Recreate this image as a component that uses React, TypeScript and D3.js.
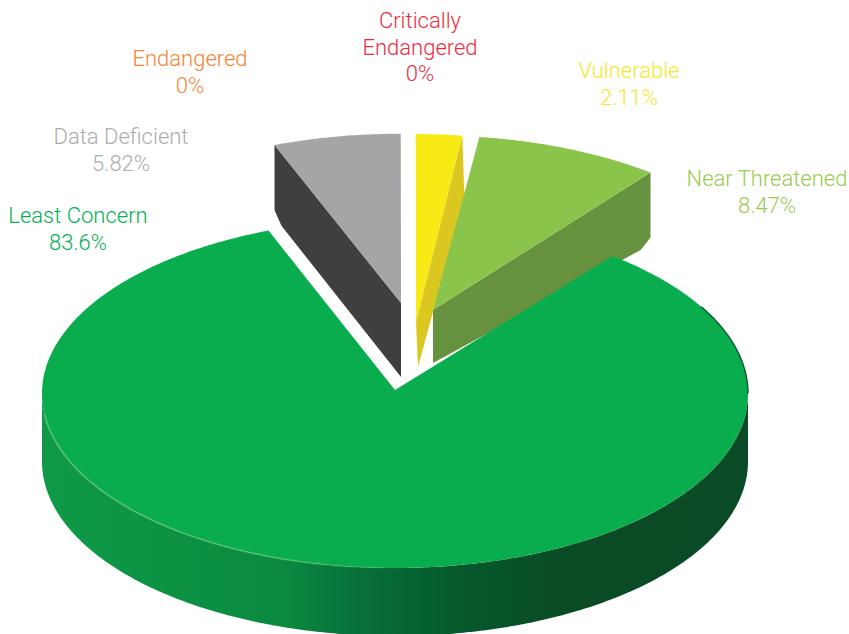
import React from "react";
import * as d3 from "d3";

const W = 849;
const H = 634;

// Data
const categories = ["Data Deficient", "Endangered", "Critically Endangered", "Vulnerable", "Near Threatened", "Least Concern"];
const values = [5.82, 0, 0, 2.11, 8.47, 83.6];
const labelLines: string[][] = [["Data Deficient"], ["Endangered"], ["Critically", "Endangered"], ["Vulnerable"], ["Near Threatened"], ["Least Concern"]];

// Style and layout, per category
const labelColors = ["#adadad", "#f58635", "#ee2c3e", "#f6e72a", "#98cb4e", "#05b055"];
const labelX = [121, 190, 420, 629, 767, 78];
const labelY = [144, 66, 28, 78, 186, 223];
const faceColors = ["#a5a4a6", "none", "none", "#f7ea14", "#8bc44b", "#0aad4d"];
const wallColors = ["#3f3f42", "none", "none", "#dac821", "#66923f", "url(#greenWall)"];
// pulled-out position of each slice's apex, vertical stretch, wall depth at rim and at apex
const apexX = [401, 0, 0, 416, 433, 395];
const apexY = [303, 0, 0, 322, 310, 390];
const stretch = [0.97, 1, 1, 1.077, 1, 1];
const rimDepth = [72, 0, 0, 61, 72, 68];
const apexDepth = [74, 0, 0, 45, 53, 0];
const wallEdge = ["start", "", "", "end", "end", ""];
const chamfer = [7, 0, 0, 0, 7, 0];

const RX = 353;
const RY = 174.5;
const ELLIPSE_CY = 393.5;
const TILT_START = (-21 * Math.PI) / 180;

const pie = d3
  .pie<number>()
  .sort(null)
  .startAngle(TILT_START)
  .endAngle(TILT_START + 2 * Math.PI);

const lineGen = d3.line<[number, number]>();

function rim(a0: number, a1: number, cx: number, cy: number, sy: number, dy = 0): [number, number][] {
  const n = Math.max(2, Math.ceil(Math.abs(a1 - a0) / 0.01));
  return d3.range(n + 1).map((i) => {
    const a = a0 + ((a1 - a0) * i) / n;
    return [cx + RX * Math.sin(a), cy - RY * sy * Math.cos(a) + dy] as [number, number];
  });
}

export default function App() {
  const arcs = pie(values);
  const greenIdx = values.length - 1;
  const green = arcs[greenIdx];
  const smalls = arcs.filter((a, i) => i !== greenIdx && a.value > 0);

  const greenCx = apexX[greenIdx];
  const greenWallTop = rim(Math.PI / 2, (3 * Math.PI) / 2, greenCx, ELLIPSE_CY, 1);
  const greenWallBottom = rim((3 * Math.PI) / 2, Math.PI / 2, greenCx, ELLIPSE_CY, 1, rimDepth[greenIdx]);
  const greenFace: [number, number][] = [
    [greenCx, apexY[greenIdx]],
    ...rim(green.startAngle, green.endAngle, greenCx, ELLIPSE_CY, 1),
  ];
  const highlight = rim((3 * Math.PI) / 2 - 0.12, Math.PI * 0.99, greenCx, ELLIPSE_CY, 1);
  const darkEdge = rim(1.05, Math.PI / 2, greenCx, ELLIPSE_CY, 1);

  return (
    <svg width={W} height={H} viewBox={`0 0 ${W} ${H}`} style={{ position: "absolute", left: 0, top: 0, background: "#fff" }}>
      <defs>
        <linearGradient id="greenWall" gradientUnits="userSpaceOnUse" x1={42} x2={748} y1={0} y2={0}>
          <stop offset="0" stopColor="#0f9a47" />
          <stop offset="0.34" stopColor="#0a8a40" />
          <stop offset="0.45" stopColor="#07703a" />
          <stop offset="0.58" stopColor="#055a2c" />
          <stop offset="0.75" stopColor="#0a4a25" />
          <stop offset="1" stopColor="#0a4a26" />
        </linearGradient>
        <linearGradient id="rimGlow" gradientUnits="userSpaceOnUse" x1={42} x2={385} y1={0} y2={0}>
          <stop offset="0" stopColor="#5cc274" stopOpacity="0.8" />
          <stop offset="0.7" stopColor="#5cc274" stopOpacity="0.7" />
          <stop offset="1" stopColor="#5cc274" stopOpacity="0" />
        </linearGradient>
      </defs>

      {smalls.map((a) => {
        const i = a.index;
        const cx = apexX[i];
        const cy = apexY[i];
        const sy = stretch[i];
        const isEnd = wallEdge[i] === "end";
        const edgeAngle = isEnd ? a.endAngle : a.startAngle;
        const corner = rim(edgeAngle, edgeAngle, cx, cy, sy)[0];
        const skew = sy > 1 ? 2 : 0;
        const bottom: [number, number] = [corner[0] + skew, corner[1] + rimDepth[i]];
        const apexBottom: [number, number] = [cx + skew, cy + apexDepth[i]];
        const len = Math.hypot(apexBottom[0] - bottom[0], apexBottom[1] - bottom[1]);
        const c = chamfer[i];
        const wall: [number, number][] = [
          corner,
          [bottom[0], bottom[1] - c],
          [bottom[0] + ((apexBottom[0] - bottom[0]) / len) * c * 1.6, bottom[1] + ((apexBottom[1] - bottom[1]) / len) * c * 1.6],
          apexBottom,
          [cx, cy],
        ];
        const face: [number, number][] = [[cx, cy], ...rim(a.startAngle, a.endAngle, cx, cy, sy)];
        return (
          <g key={categories[i]}>
            <path d={lineGen(wall) + "Z"} fill={wallColors[i]} />
            <path d={lineGen(face) + "Z"} fill={faceColors[i]} />
          </g>
        );
      })}

      <path d={lineGen([...greenWallTop, ...greenWallBottom]) + "Z"} fill={wallColors[greenIdx]} />
      <path d={lineGen(greenFace) + "Z"} fill={faceColors[greenIdx]} />
      <path d={lineGen(highlight) ?? ""} fill="none" stroke="url(#rimGlow)" strokeWidth={1.8} />
      <path d={lineGen(darkEdge) ?? ""} fill="none" stroke="#0a5a2c" strokeWidth={1.4} />

      {categories.map((c, i) => {
        const lines = [...labelLines[i], `${values[i]}%`];
        return (
          <text
            key={c}
            textAnchor="middle"
            fontFamily="Roboto, 'Liberation Sans', sans-serif"
            fontWeight={300}
            fontSize={22}
            fill={labelColors[i]}
          >
            {lines.map((l, j) => (
              <tspan key={j} x={labelX[i]} y={labelY[i] + j * 26.7}>
                {l}
              </tspan>
            ))}
          </text>
        );
      })}
    </svg>
  );
}
